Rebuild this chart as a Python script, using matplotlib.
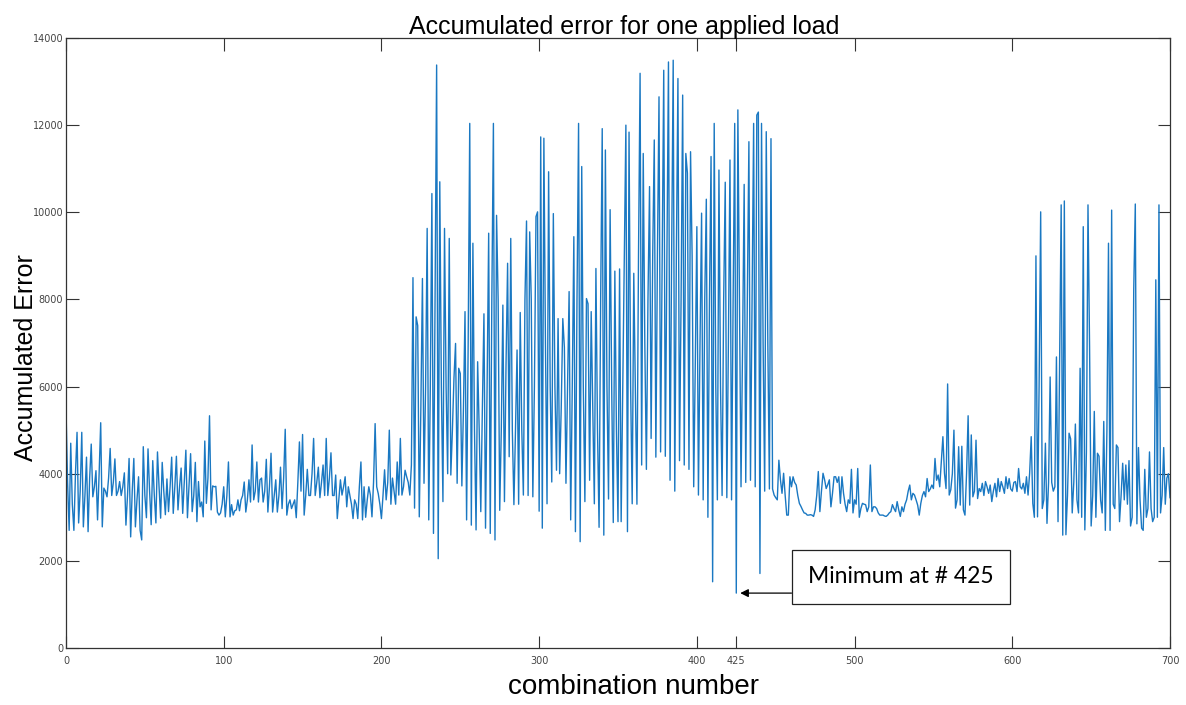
import numpy as np
import matplotlib
matplotlib.use("Agg")
import matplotlib.pyplot as plt

# accumulated error per combination in blocks
seg_a = [5500, 3800, 2700, 4700, 3300, 2700, 4000, 4950, 2870, 3600,
         4950, 2780, 3500, 4380, 2670, 3900, 4680, 3470, 3700, 4070,
         2940, 4000, 5170, 2780, 3670, 3600, 3470, 3900, 4580, 3500,
         3800, 4340, 3500, 3600, 3820, 3500, 3700, 4020, 2820, 3500,
         4350, 2550, 3600, 4350, 2780, 3400, 3930, 2700, 2480, 4620,
         3500, 2990, 4570, 3600, 2830, 4300, 3500, 2870, 4500, 3700,
         2980, 4260, 3600, 3060, 3880, 3130, 3700, 4380, 3090, 3700,
         4400, 3170, 3700, 4130, 3090, 3800, 4540, 2990, 3700, 4460,
         3130, 3500, 4260, 2900, 3820]
seg_b = [3240, 3350, 3010, 4750, 3320, 3900, 5330, 3170, 3720, 3700,
         3710, 3120, 3050, 3100, 3300, 3700, 3010, 3500, 4270, 3010,
         3290, 3050, 3150, 3170, 3400, 3150, 3400, 3500, 3810, 3120,
         3400, 3860, 3350, 4660, 3400, 3600, 4270, 3350, 3860, 3900,
         3350, 3600, 4330, 3120, 3700, 4470, 3120, 3500, 3860, 3120,
         3500, 4150, 3200, 3900, 5020, 3050, 3300, 3400, 3200, 3300,
         3400, 2990, 3800, 4730, 3600, 4900, 3050, 3500, 4100, 3500,
         3500, 4000, 4810, 3500, 3800, 4150, 3450, 3800, 4200, 3500,
         4810, 3500, 3900, 4480, 3500, 3500]
seg_c = [3970, 2970, 3400, 3860, 3510, 3700, 3930, 3240, 3700, 3500,
         3300, 2970, 3400, 3300, 2970, 3700, 4270, 2940, 3700, 3000,
         3400, 3700, 3510, 3010, 3800, 5150, 3700, 3540, 3300, 2970,
         3500, 4090, 3400, 3800, 5000, 3300, 3900, 3600, 3300, 4270,
         3510, 4810, 3510, 3700, 4080, 3930, 3800, 3510, 4200]
seg_d = [8500, 3210, 7600, 7400, 3010, 5500, 8480, 3780, 6000, 9630,
         2940, 6000, 10430, 2630, 8000, 13380, 2050, 10700, 6000, 3360,
         9630, 6000, 4000, 9400, 3970, 5000, 6200, 6990, 3780, 6420,
         6300, 3720, 5500, 7720, 2940, 7000, 12040, 2820, 9290, 5000,
         2710, 6570, 5000, 3130, 5500, 7670, 2750, 6000, 9520, 2630,
         8000, 12040, 2480, 9930, 8000, 3160, 5000, 7870, 3360, 6500,
         8830, 4390, 9400, 5000, 3290, 5000, 6840, 3300, 7700, 5000,
         3510, 8000, 9800, 3500, 9550, 8000, 3470, 6000, 9900, 10010]
seg_e = [3140, 11730, 2750, 11700, 7000, 3310, 10930, 6000, 3810, 9970,
         6000, 4080, 7560, 4000, 5500, 7560, 6900, 3780, 6000, 8180,
         2940, 6000, 9440, 2670, 8000, 12040, 2440, 11050, 6000, 3360,
         8020, 7900, 3850, 7720, 5500, 3310, 8710, 5000, 2770, 8000,
         11920, 2590, 11430, 6000, 3420, 10060, 6000, 2880, 8650, 5000,
         2900, 8700, 2900, 6000, 9000, 12000, 2670, 11840, 6000, 3310,
         8600, 6000, 3300, 9000, 13190, 4200, 11350, 7000, 4100, 8000,
         10590, 4810, 9000, 11660, 4380, 9000, 12650, 4500, 9000, 13260]
seg_f = [4400, 9000, 13450, 3850, 9000, 13490, 3600, 9000, 13070, 4300,
         8000, 12690, 4200, 11350, 10900, 4100, 11390, 9000, 3700, 6500,
         9670, 3510, 7000, 9980, 3400, 8000, 10300, 3000, 8000, 11280,
         1520, 12040, 6000, 3400, 10970, 6000, 3500, 8000, 10690, 3450,
         7000, 11200, 3400, 8000, 12040, 1260, 12350, 8000, 3700, 7000,
         10640, 3800, 8000, 11620, 3850, 8000, 12040, 3700, 12230, 12300,
         1710, 12040, 7000, 3600, 11850, 7000, 3650, 11690, 3650]
seg_g = [3510, 3450, 3400, 4310, 3860, 3550, 4010, 3500, 3050, 3050,
         3930, 3700, 3930, 3800, 3740, 3500, 3320, 3250, 3170, 3100,
         3090, 3050, 3050, 3060, 3050, 3020, 3170, 3500, 4050, 3130,
         3600, 4010, 3860, 3660, 3750, 3860, 3240, 3550, 3930, 3930,
         3800, 3930, 3320, 3930, 3550, 3300, 3130, 3400, 3320, 4100,
         3100, 3400, 3300, 4120, 3000, 3200, 3320, 3300, 3290, 3130,
         3240, 4200, 3130, 3240, 3240, 3200, 3100, 3050, 3050, 3050,
         3030, 3020, 3050, 3100, 3130, 3290, 3200, 3130, 3360]
seg_h = [3170, 3020, 3240, 3130, 3300, 3400, 3600, 3740, 3400, 3550,
         3510, 3400, 3280, 3050, 3320, 3500, 3590, 3470, 3890, 3590,
         3650, 3740, 3660, 4350, 3850, 3970, 3700, 4270, 4850, 4010,
         3660, 6060, 3510, 3630, 4000, 5000, 3210, 3400, 4620, 3280,
         4630, 3170, 3050, 4000, 5330, 3280, 4890, 3470, 3600, 4770,
         3430, 3660, 3590, 3780, 3500, 3820, 3700, 3550, 3740, 3360,
         3600, 3780, 3470, 3890, 3590, 3820, 3700, 3550, 3930, 3660,
         3890, 3650, 3600, 3800, 3820, 3590, 4120, 3700, 3650, 3780,
         3550, 3930, 3510, 4010, 4850, 3320, 3000]
seg_i = [9000, 3010, 6000, 10010, 3200, 3400, 4700, 2860, 3800, 6220,
         3800, 3600, 3700, 6680, 2900, 6500, 10170, 2590, 10260, 2600,
         3500, 4930, 4800, 3100, 3800, 5140, 3400, 3100, 6420, 3000,
         9670, 2710, 4500, 10170, 6920, 2800, 3500, 5430, 3000, 4470,
         4400, 3400, 3100, 5200, 2700, 5000, 9290, 2700, 10050, 3300,
         3200, 4660, 4600, 2900, 3500, 4240, 3400, 4200, 3300, 4300,
         2800, 3000, 8210, 10190, 2850, 4600, 3400, 2750, 2700, 4100,
         3000, 3200, 4500, 3200, 2900, 3000, 8450, 3000, 10170, 3100,
         3500, 4600, 3300, 3900, 4000, 3450]

errors = np.array(seg_a + seg_b + seg_c + seg_d + seg_e + seg_f + seg_g + seg_h + seg_i)
combos = np.arange(len(errors))

x_ticks = [0, 100, 200, 300, 400, 425, 500, 600, 700]
y_ticks = list(range(0, 14001, 2000))
min_idx = 425

fig = plt.figure(figsize=(11.86, 7.05), dpi=100)
ax = fig.add_axes([66 / 1186, 57 / 705, 1104 / 1186, 610 / 705])
ax.plot(combos, errors, color='#1a78c2', linewidth=1.0)

ax.set_xlim(0, 700)
ax.set_ylim(0, 14000)
ax.set_xticks(x_ticks)
ax.set_yticks(y_ticks)
ax.tick_params(direction='in', top=True, right=True, length=9, width=0.8,
               color='#333333', labelsize=7, labelcolor='#444444')
ax.tick_params(axis='x', pad=6)
ax.tick_params(axis='y', pad=2)
for s in ax.spines.values():
    s.set_color('#333333')
    s.set_linewidth(0.9)

ax.set_title('Accumulated error for one applied load', fontsize=18,
             family='Liberation Sans', pad=3, x=0.506)
ax.set_ylabel('Accumulated Error', fontsize=18, family='Liberation Sans')
ax.yaxis.set_label_coords(-0.025, 0.476)
ax.set_xlabel('combination number', fontsize=20, family='Liberation Sans')
ax.xaxis.set_label_coords(0.5136, -0.042)

# annotation for the minimum
ax.annotate('', xy=(min_idx + 2.5, errors[min_idx]), xytext=(460, errors[min_idx]),
            arrowprops=dict(arrowstyle='-|>', color='black', lw=0.9,
                            mutation_scale=12, shrinkA=0, shrinkB=0))
ax.text(529.5, 1630, 'Minimum at # 425', fontsize=16.5, family='Lato',
        ha='center', va='center',
        bbox=dict(boxstyle='square,pad=0.7', facecolor='white', edgecolor='#222222', linewidth=0.9))

fig.savefig('out.png', dpi=100)
